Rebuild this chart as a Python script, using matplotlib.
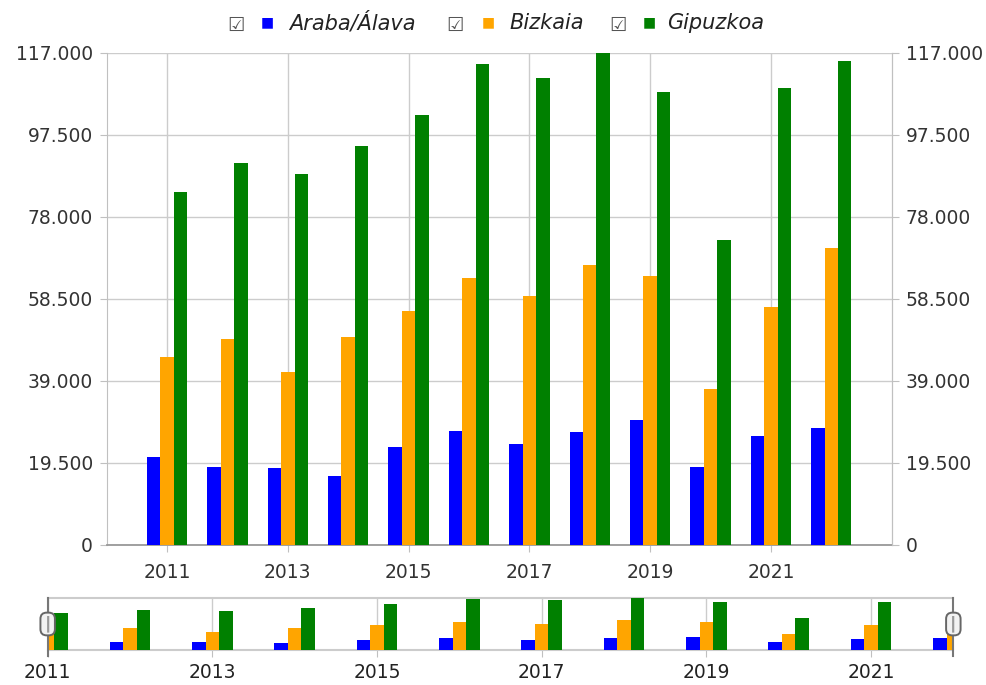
import numpy as np
import matplotlib
matplotlib.use("Agg")
import matplotlib.pyplot as plt
from matplotlib.ticker import FuncFormatter
import matplotlib.transforms as mtransforms

years = np.arange(2011, 2023)
series_names = ["Araba/Álava", "Bizkaia", "Gipuzkoa"]
araba = [21000, 18600, 18400, 16500, 23200, 27200, 23900, 26900, 29700, 18500, 25900, 27900]
bizkaia = [44700, 48900, 41000, 49500, 55700, 63400, 59200, 66500, 63900, 37000, 56600, 70500]
gipuzkoa = [84000, 90700, 88200, 94900, 102200, 114200, 110900, 117000, 107700, 72500, 108500, 115000]
colors = ["#0000ff", "#ffa500", "#008000"]
y_ticks = [0, 19500, 39000, 58500, 78000, 97500, 117000]
x_labels = [2011, 2013, 2015, 2017, 2019, 2021]

grid_c = "#cccccc"
text_c = "#333333"

def thousands(v, pos):
    return f"{int(v):,}".replace(",", ".")

fig = plt.figure(figsize=(9.87, 6.85), dpi=100)

# main chart
ax = fig.add_axes([0.1081, 0.2044, 0.7953, 0.7187])
w = 0.223
for i, vals in enumerate([araba, bizkaia, gipuzkoa]):
    ax.bar(years + (i - 1) * w, vals, width=w, color=colors[i], zorder=3)

ax.set_xlim(2010, 2023)
ax.set_ylim(0, 117000)
ax.set_yticks(y_ticks)
ax.yaxis.set_major_formatter(FuncFormatter(thousands))
ax.set_xticks(x_labels)
ax.set_xticklabels([str(y) for y in x_labels])
ax.grid(True, color=grid_c, linewidth=1, zorder=0)
ax.spines["top"].set_visible(False)
ax.spines["left"].set_color("#c0c0c0")
ax.spines["right"].set_color("#c0c0c0")
ax.spines["bottom"].set_color("#999999")
ax.spines["bottom"].set_linewidth(1.3)
ax.tick_params(axis="y", length=5, color="#c0c0c0", labelsize=13.5, labelcolor=text_c, pad=5)
ax.tick_params(axis="x", length=5, color="#c0c0c0", labelsize=13.5, labelcolor=text_c, pad=8)

ax2 = ax.twinx()
ax2.set_ylim(ax.get_ylim())
ax2.set_yticks(y_ticks)
ax2.yaxis.set_major_formatter(FuncFormatter(thousands))
ax2.spines["top"].set_visible(False)
ax2.spines["right"].set_color("#c0c0c0")
ax2.spines["left"].set_visible(False)
ax2.spines["bottom"].set_visible(False)
ax2.tick_params(axis="y", length=5, color="#c0c0c0", labelsize=13.5, labelcolor=text_c, pad=5)

# legend as text
legend_x = [(0.239, 0.271, 0.293), (0.461, 0.495, 0.516), (0.626, 0.658, 0.676)]
for (cx, sx, tx), name, c in zip(legend_x, series_names, colors):
    fig.text(cx, 0.963, "\u2611", fontsize=14, color="#555555", ha="center", va="center")
    fig.text(sx, 0.967, "\u25a0", fontsize=10, color=c, ha="center", va="center")
    fig.text(tx, 0.967, name, fontsize=15, style="italic", color="#222222", ha="left", va="center")

# navigator
nav = fig.add_axes([0.0483, 0.0507, 0.9176, 0.0767])
nw = 0.164
for i, vals in enumerate([araba, bizkaia, gipuzkoa]):
    nav.bar(years + (i - 1) * nw, vals, width=nw, color=colors[i], zorder=3)
nav.set_xlim(2011, 2022)
nav.set_ylim(0, 117000)
nav.set_yticks([])
nav.set_xticks(x_labels)
nav.set_xticklabels([str(y) for y in x_labels])
nav.grid(True, axis="x", color=grid_c, linewidth=1, zorder=0)
for s in ["left", "right"]:
    nav.spines[s].set_visible(False)
nav.spines["top"].set_color("#cccccc")
nav.spines["top"].set_linewidth(1.5)
nav.spines["bottom"].set_color("#cccccc")
nav.spines["bottom"].set_linewidth(1.5)
nav.tick_params(axis="x", length=5, color="#c0c0c0", labelsize=13.5, labelcolor="#222222", pad=4)

trans = mtransforms.blended_transform_factory(nav.transData, nav.transAxes)
for hx in [2011, 2022]:
    nav.plot([hx, hx], [-0.1, 1.0], transform=trans, color="#777777", lw=1.5, clip_on=False, zorder=5)
    nav.text(hx, 0.5, "\u2503", transform=trans, fontsize=10, color="#999999",
             ha="center", va="center", zorder=7, clip_on=False,
             bbox=dict(boxstyle="round,pad=0.22,rounding_size=0.45", fc="#f2f2f2", ec="#666666", lw=1.4))

fig.savefig("out.png", dpi=100)
